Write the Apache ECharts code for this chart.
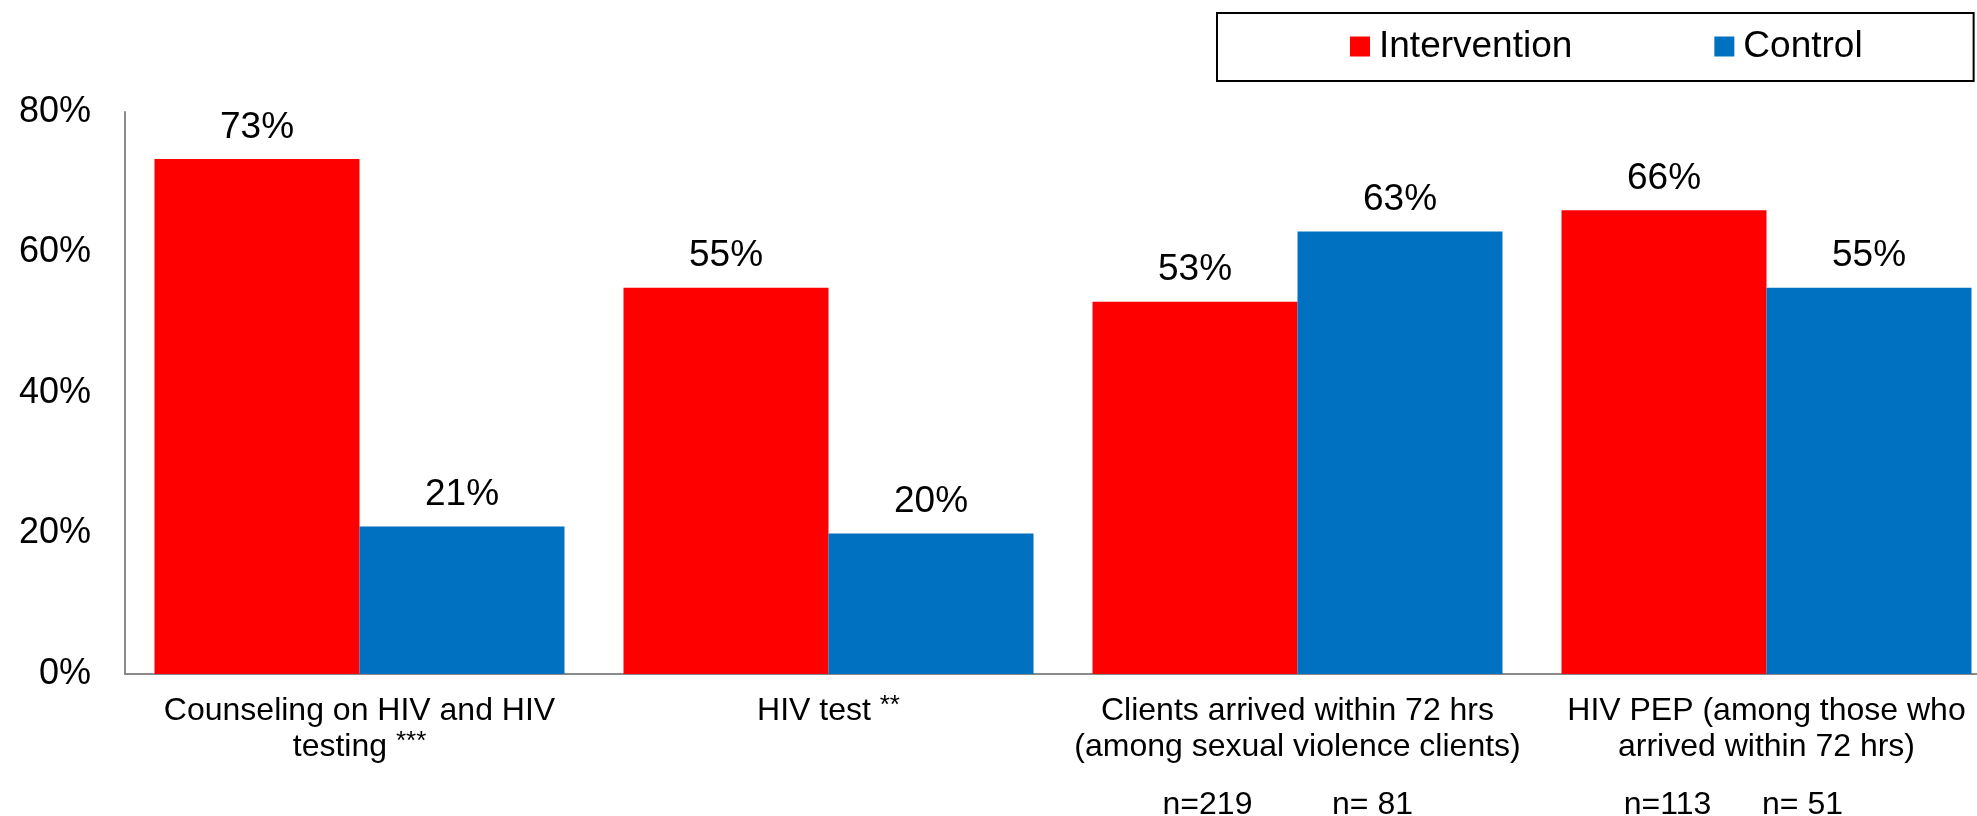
<!DOCTYPE html>
<html>
<head>
<meta charset="utf-8">
<script src="https://cdn.jsdelivr.net/npm/echarts@6/dist/echarts.min.js"></script>
<style>
  html, body { margin: 0; padding: 0; background: #fff; }
  #chart { width: 1977px; height: 816px; }
</style>
</head>
<body>
<div id="chart"></div>
<script>
// categories (lines of each axis label) and significance marks
const categories = [
  ['Counseling on HIV and HIV', 'testing'],
  ['HIV test'],
  ['Clients arrived within 72 hrs', '(among sexual violence clients)'],
  ['HIV PEP (among those who', 'arrived within 72 hrs)']
];
const stars = ['***', '**', '', ''];
// percentages (bar heights)
const intervention = [73.3, 55, 53, 66];
const control = [21, 20, 63, 55];
// sample sizes shown under some groups
const nIntervention = [null, null, 219, 113];
const nControl = [null, null, 81, 51];

const yTicks = [0, 20, 40, 60, 80];

const FONT = '"Liberation Sans", Arial, sans-serif';
const RED = '#ff0000';
const BLUE = '#0070c0';

// spacing of the n= line under the categories that have it
const nSpacing = { 2: { gap: 75, tail: 15 }, 3: { gap: 45, tail: 63 } };

function fmtN (v) {
  let s = String(v);
  if (s.length < 3) s = ' ' + s;
  return 'n=' + s;
}

function catLabel (value, idx) {
  let lines = categories[idx];
  let out = [];
  lines.forEach((l, i) => {
    let last = i === lines.length - 1;
    let s = '{t|' + l + (last && stars[idx] ? ' ' : '') + '}';
    if (last && stars[idx]) s += '{sup|' + stars[idx] + '}';
    out.push(s);
  });
  if (nIntervention[idx] != null) {
    out.push('{n|' + fmtN(nIntervention[idx]) + '}{g' + idx + '| }{n|' + fmtN(nControl[idx]) + '}{e' + idx + '| }');
  }
  return out.join('\n');
}

const rich = {
  t: { fontSize: 32, lineHeight: 36, color: '#000', fontFamily: FONT },
  sup: { fontSize: 26, lineHeight: 26, color: '#000', fontFamily: FONT, verticalAlign: 'top' },
  n: { fontSize: 32, lineHeight: 80, width: 90, align: 'center', color: '#000', fontFamily: FONT }
};
Object.keys(nSpacing).forEach(k => {
  rich['g' + k] = { width: nSpacing[k].gap, lineHeight: 80, fontSize: 32 };
  rich['e' + k] = { width: nSpacing[k].tail, lineHeight: 80, fontSize: 32 };
});

const barLabel = {
  show: true,
  position: 'top',
  distance: 13,
  formatter: p => Math.round(p.value) + '%',
  fontSize: 37,
  color: '#000',
  fontFamily: FONT
};

const chart = echarts.init(document.getElementById('chart'));
chart.setOption({
  backgroundColor: '#fff',
  animation: false,
  textStyle: { fontFamily: FONT },
  legend: {
    data: ['Intervention', 'Control'],
    left: 1217,
    top: 13,
    icon: 'rect',
    itemWidth: 20,
    itemHeight: 20,
    itemGap: 142,
    borderColor: '#000',
    borderWidth: 2,
    padding: [15, 111, 16, 133],
    textStyle: { fontSize: 37, color: '#000', fontFamily: FONT, padding: [0, 0, 0, 4] }
  },
  grid: { left: 125, top: 112, width: 1876, height: 562, outerBoundsMode: 'none' },
  xAxis: {
    type: 'category',
    data: categories.map(c => c.join(' ')),
    axisLine: { lineStyle: { color: '#8a8a8a', width: 2 } },
    axisTick: { show: false },
    axisLabel: {
      interval: 0,
      margin: 19,
      verticalAlign: 'top',
      formatter: catLabel,
      rich: rich
    }
  },
  yAxis: {
    type: 'value',
    min: yTicks[0],
    max: yTicks[yTicks.length - 1],
    interval: yTicks[1] - yTicks[0],
    axisLine: { show: true, lineStyle: { color: '#8a8a8a', width: 2 } },
    axisTick: { show: false },
    splitLine: { show: false },
    axisLabel: { formatter: '{value}%', fontSize: 36, color: '#000', margin: 34, fontFamily: FONT }
  },
  series: [
    {
      name: 'Intervention',
      type: 'bar',
      data: intervention,
      barWidth: 205,
      barGap: '0%',
      itemStyle: { color: RED },
      label: barLabel
    },
    {
      name: 'Control',
      type: 'bar',
      data: control,
      barWidth: 205,
      barGap: '0%',
      itemStyle: { color: BLUE },
      label: barLabel
    }
  ]
});
</script>
</body>
</html>
